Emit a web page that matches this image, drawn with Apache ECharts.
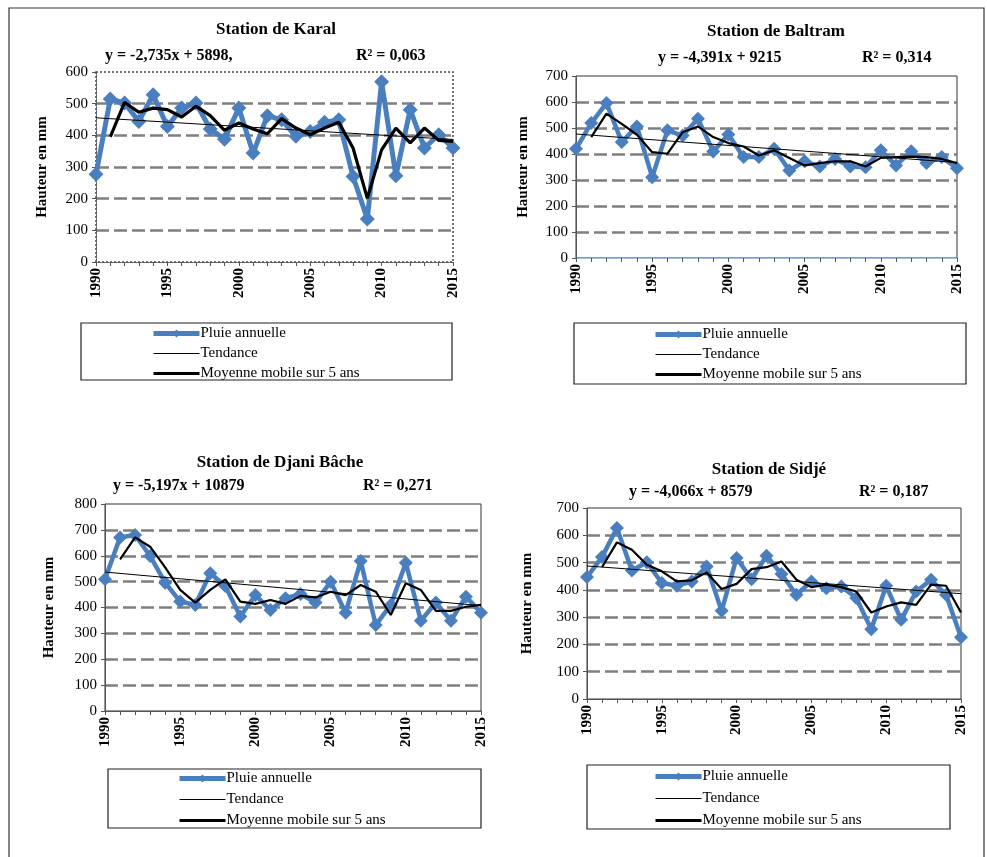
<!DOCTYPE html>
<html>
<head>
<meta charset="utf-8">
<script src="https://cdn.jsdelivr.net/npm/echarts@6/dist/echarts.min.js"></script>
<style>
  html, body { margin: 0; padding: 0; background: #fff; }
  #chart { width: 987px; height: 857px; }
</style>
</head>
<body>
<div id="chart"></div>
<script>
// Annual rainfall (mm) at four stations, 1990-2015
const years = [1990, 1991, 1992, 1993, 1994, 1995, 1996, 1997, 1998, 1999, 2000, 2001, 2002,
               2003, 2004, 2005, 2006, 2007, 2008, 2009, 2010, 2011, 2012, 2013, 2014, 2015];

const stationNames = ['Station de Karal', 'Station de Baltram', 'Station de Djani Bâche', 'Station de Sidjé'];

const karalRain = [277, 515, 502, 444, 528, 428, 486, 502, 420, 388, 486, 344, 462,
                   449, 397, 412, 441, 449, 270, 136, 569, 272, 481, 360, 402, 360];
const karalMA   = [null, 395, 504, 473, 486, 481, 458, 492, 462, 416, 439, 420, 405,
                   453, 423, 402, 423, 441, 360, 201, 354, 423, 376, 423, 384, 381];

const baltramRain = [420, 519, 596, 446, 506, 311, 491, 471, 536, 410, 475, 388, 388,
                     420, 337, 372, 352, 381, 352, 349, 414, 356, 411, 365, 388, 345];
const baltramMA   = [null, 465, 555, 516, 474, 407, 401, 484, 506, 465, 442, 429, 394,
                     414, 385, 356, 365, 372, 372, 352, 385, 388, 390, 388, 381, 365];

const djaniRain = [509, 671, 680, 599, 496, 423, 410, 532, 483, 365, 448, 390, 436,
                   452, 419, 500, 380, 580, 332, 410, 573, 349, 419, 349, 442, 380];
const djaniMA   = [null, 586, 671, 635, 555, 468, 419, 468, 509, 423, 414, 429, 414,
                   445, 439, 461, 448, 487, 461, 371, 494, 468, 387, 387, 403, 410];

const sidjeRain = [447, 520, 627, 471, 501, 425, 415, 431, 486, 323, 517, 439, 525,
                   458, 382, 431, 406, 412, 370, 256, 415, 290, 394, 437, 382, 226];
const sidjeMA   = [null, 483, 574, 547, 492, 468, 431, 435, 464, 403, 422, 476, 483,
                   504, 437, 410, 419, 410, 394, 317, 339, 354, 345, 419, 415, 317];

// Linear trend equations as printed above each plot: slope, intercept, R²
const trendSlope     = [-2.735, -4.391, -5.197, -4.066];
const trendIntercept = [5898, 9215, 10879, 8579];
const trendLabels    = ['y = -2,735x + 5898,', 'y = -4,391x + 9215', 'y = -5,197x + 10879', 'y = -4,066x + 8579'];
const r2Labels       = ['R² = 0,063', 'R² = 0,314', 'R² = 0,271', 'R² = 0,187'];

const yMax = [600, 700, 800, 700];

const legendNames = ['Pluie annuelle', 'Tendance', 'Moyenne mobile sur 5 ans'];

const rainSets = [karalRain, baltramRain, djaniRain, sidjeRain];
const maSets   = [karalMA, baltramMA, djaniMA, sidjeMA];

// ---- layout ----
const SERIF = '"Liberation Serif", "Times New Roman", serif';
const BLUE = '#4a7fbf';
const grids = [
  { left: 96,  top: 72,  width: 357, height: 190 },
  { left: 576, top: 76,  width: 381, height: 182 },
  { left: 105, top: 504, width: 376, height: 207 },
  { left: 587, top: 508, width: 374, height: 191 }
];
const nameGaps = [46, 45, 48, 52];
const titlePos = [[271, 16], [771, 18], [275, 449], [764, 456]];
const eqPos  = [[105, 48], [658, 50], [113, 478], [629, 484]];
const r2Pos  = [[356, 48], [862, 50], [363, 478], [859, 484]];
const legendBox = [[81, 323, 371, 57], [574, 323, 392, 61], [108, 769, 373, 59], [587, 765, 363, 64]];
const legendPos = [[151, 326, 5], [653, 327, 5], [177, 771, 6], [653, 769, 7]];
const maWidth = [3.2, 2.2, 2.2, 2.2];
const rainWidth = [5, 4.5, 4.5, 4.5];
const symSize = [15, 14, 14, 14];

const pairs = (arr) => years.map((y, i) => [y, arr[i]]);

const xAxes = [], yAxes = [], series = [], titles = [], legends = [], graphics = [];

grids.forEach((g, i) => {
  const dotted = i === 0;
  xAxes.push({
    gridIndex: i, type: 'value', min: 1990, max: 2015, interval: 5,
    axisLine: { show: true, lineStyle: { color: i === 1 ? '#9dbbe0' : '#555', width: 1, type: dotted ? 'dotted' : 'solid' } },
    axisTick: { show: true, inside: false, length: 4, lineStyle: { color: '#555' } },
    minorTick: { show: true, splitNumber: 5, length: 4, lineStyle: { color: '#555' } },
    splitLine: { show: false },
    axisLabel: {
      rotate: 90, margin: 6, fontFamily: SERIF, fontSize: 15, fontWeight: 'bold', color: '#000',
      showMinLabel: true, showMaxLabel: true,
      formatter: (v) => String(v)
    }
  });
  yAxes.push({
    gridIndex: i, type: 'value', min: 0, max: yMax[i], interval: 100,
    name: 'Hauteur en mm', nameLocation: 'middle', nameGap: nameGaps[i], nameRotate: 90,
    nameTextStyle: { fontFamily: SERIF, fontSize: 15, fontWeight: 'bold', color: '#000' },
    axisLine: { show: true, lineStyle: { color: '#555', width: 1, type: dotted ? 'dotted' : 'solid' } },
    axisTick: { show: true, length: 4, lineStyle: { color: '#555' } },
    axisLabel: { margin: 8, fontFamily: SERIF, fontSize: 15, color: '#000' },
    splitLine: {
      show: true, showMinLine: false, showMaxLine: false,
      lineStyle: { color: '#7f7f7f', width: 2.5, type: [13, 5] }
    }
  });

  const t0 = trendSlope[i] * 1990 + trendIntercept[i];
  const t1 = trendSlope[i] * 2015 + trendIntercept[i];

  series.push({
    name: legendNames[0], type: 'line', xAxisIndex: i, yAxisIndex: i,
    data: pairs(rainSets[i]), symbol: 'diamond', symbolSize: symSize[i],
    itemStyle: { color: BLUE }, lineStyle: { color: BLUE, width: rainWidth[i] },
    z: 2, animation: false
  });
  series.push({
    name: legendNames[1], type: 'line', xAxisIndex: i, yAxisIndex: i,
    data: [[1990, t0], [2015, t1]], symbol: 'none',
    lineStyle: { color: '#000', width: 1 }, itemStyle: { color: '#000' },
    z: 3, animation: false
  });
  series.push({
    name: legendNames[2], type: 'line', xAxisIndex: i, yAxisIndex: i,
    data: pairs(maSets[i]), symbol: 'none', connectNulls: false,
    lineStyle: { color: '#000', width: maWidth[i] }, itemStyle: { color: '#000' },
    z: 4, animation: false
  });

  titles.push({
    text: stationNames[i], left: titlePos[i][0], top: titlePos[i][1], textAlign: 'center',
    textStyle: { fontFamily: SERIF, fontSize: 17, fontWeight: 'bold', color: '#000' }
  });

  legends.push({
    data: [
      { name: legendNames[0], itemStyle: { color: BLUE }, lineStyle: { width: 5, color: BLUE } },
      { name: legendNames[1], itemStyle: { opacity: 0 }, lineStyle: { width: 1, color: '#000' } },
      { name: legendNames[2], itemStyle: { opacity: 0 }, lineStyle: { width: 3, color: '#000' } }
    ],
    orient: 'vertical', left: legendPos[i][0], top: legendPos[i][1],
    itemGap: legendPos[i][2], itemWidth: 46, itemHeight: 10, padding: 0,
    selectedMode: false,
    textStyle: { fontFamily: SERIF, fontSize: 15, color: '#000', padding: [0, 0, 0, -4] }
  });

  graphics.push({
    type: 'rect', shape: { x: legendBox[i][0], y: legendBox[i][1], width: legendBox[i][2], height: legendBox[i][3] },
    style: { fill: 'none', stroke: '#222', lineWidth: 1.2 }, z: -1
  });
  graphics.push({
    type: 'text', x: eqPos[i][0], y: eqPos[i][1],
    style: { text: trendLabels[i], font: 'bold 16px ' + SERIF, fill: '#000' }
  });
  graphics.push({
    type: 'text', x: r2Pos[i][0], y: r2Pos[i][1],
    style: { text: r2Labels[i], font: 'bold 16px ' + SERIF, fill: '#000' }
  });
  // plot-area frame
  graphics.push({
    type: 'rect', shape: { x: g.left, y: g.top, width: g.width, height: g.height },
    style: { fill: 'none', stroke: dotted ? '#444' : '#333', lineWidth: dotted ? 1.5 : 1, lineDash: dotted ? [2, 2] : null },
    z: -1, silent: true
  });
});

// outer frame of the figure
graphics.push({
  type: 'rect', shape: { x: 9, y: 8, width: 975, height: 860 },
  style: { fill: 'none', stroke: '#333', lineWidth: 1.2 }, z: -2
});

const chart = echarts.init(document.getElementById('chart'), null, { renderer: 'canvas' });
chart.setOption({
  backgroundColor: '#fff',
  animation: false,
  title: titles,
  legend: legends,
  grid: grids.map(g => Object.assign({ containLabel: false }, g)),
  xAxis: xAxes,
  yAxis: yAxes,
  series: series,
  graphic: graphics
});
</script>
</body>
</html>
